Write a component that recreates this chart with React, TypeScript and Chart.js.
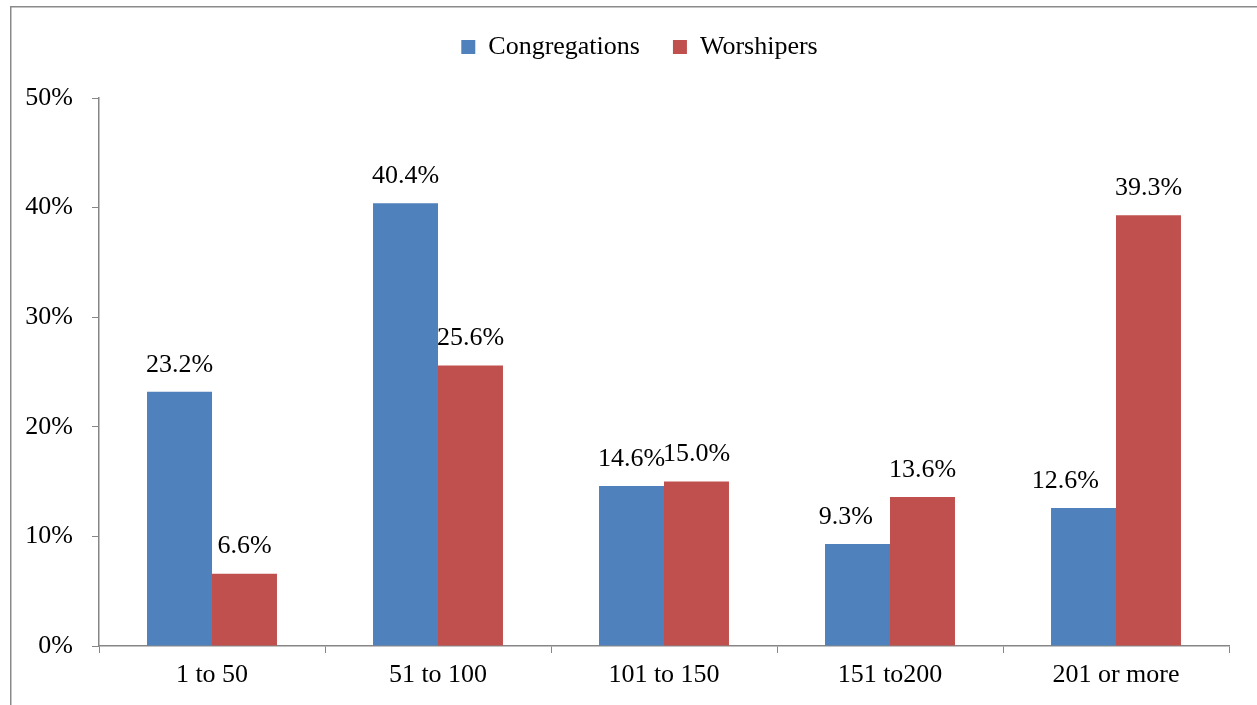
import React, { useEffect, useRef } from "react";
import { Chart, registerables } from "chart.js";

Chart.register(...registerables);

const categories = ["1 to 50", "51 to 100", "101 to 150", "151 to200", "201 or more"];
const congregations = [23.2, 40.4, 14.6, 9.3, 12.6];
const worshipers = [6.6, 25.6, 15.0, 13.6, 39.3];
const yTicks = [0, 10, 20, 30, 40, 50];

const FONT = "'Liberation Serif', 'Times New Roman', serif";
const FS = 26;
const AXIS = "#868686";

const frame = {
  id: "frame",
  beforeDraw(chart: any) {
    const ctx = chart.ctx;
    ctx.save();
    ctx.strokeStyle = "#8a8a8a";
    ctx.lineWidth = 1.5;
    ctx.beginPath();
    ctx.moveTo(10.75, chart.height);
    ctx.lineTo(10.75, 6.75);
    ctx.lineTo(chart.width, 6.75);
    ctx.stroke();
    ctx.restore();
  },
};

const legendSpace = {
  id: "legendSpace",
  beforeInit(chart: any) {
    const lg = chart.legend;
    if (!lg) return;
    const orig = lg.fit;
    lg.fit = function () {
      orig.call(this);
      this.height += 28;
    };
  },
  afterLayout(chart: any) {
    const lg = chart.legend;
    if (lg) lg.left += 50;
  },
};

const valueLabels = {
  id: "valueLabels",
  afterDatasetsDraw(chart: any) {
    const ctx = chart.ctx;
    ctx.save();
    ctx.font = `${FS}px ${FONT}`;
    ctx.fillStyle = "#000";
    ctx.textAlign = "center";
    ctx.textBaseline = "middle";
    const n = chart.data.datasets.length;
    chart.data.datasets.forEach((ds: any, i: number) => {
      const meta = chart.getDatasetMeta(i);
      meta.data.forEach((bar: any, j: number) => {
        const txt = ds.data[j].toFixed(1) + "%";
        const w = ctx.measureText(txt).width;
        let x = bar.x;
        const y = bar.y - 27;
        if (i + 1 < n) {
          const nb = chart.getDatasetMeta(i + 1).data[j];
          const nLeft = nb.x - nb.width / 2;
          if (y + 10 > nb.y && x + w / 2 > nLeft - 15) x = nLeft - 17 - w / 2;
        }
        ctx.fillText(txt, x, y);
      });
    });
    ctx.restore();
  },
};

export default function App() {
  const ref = useRef<HTMLCanvasElement>(null);
  useEffect(() => {
    const chart = new Chart(ref.current!, {
      type: "bar",
      data: {
        labels: categories,
        datasets: [
          { label: "Congregations", data: congregations, backgroundColor: "#4F81BD" },
          { label: "Worshipers", data: worshipers, backgroundColor: "#C0504D" },
        ],
      },
      options: {
        animation: false,
        responsive: false,
        maintainAspectRatio: false,
        layout: { padding: { top: 1, right: 28, bottom: 0, left: 0 } },
        datasets: { bar: { categoryPercentage: 0.575, barPercentage: 1 } },
        plugins: {
          legend: {
            position: "top",
            labels: {
              font: { family: FONT, size: FS },
              color: "#000",
              boxWidth: 14,
              boxHeight: 14,
              padding: 33,
            },
          },
          tooltip: { enabled: false },
        },
        scales: {
          x: {
            offset: true,
            grid: { display: true, drawOnChartArea: false, drawTicks: true, tickLength: 7, offset: true, color: AXIS },
            border: { display: true, color: AXIS, width: 1.5 },
            ticks: { font: { family: FONT, size: FS }, color: "#000", padding: 7 },
            afterFit: (s: any) => { s.height = 59; },
          },
          y: {
            min: 0,
            max: 50,
            afterBuildTicks: (s: any) => { s.ticks = yTicks.map((v) => ({ value: v })); },
            grid: { display: true, drawOnChartArea: false, drawTicks: true, tickLength: 7, color: AXIS },
            border: { display: true, color: AXIS, width: 1.5 },
            ticks: { font: { family: FONT, size: FS }, color: "#000", padding: 19, callback: (v: any) => v + "%" },
            afterFit: (s: any) => { s.width = 99; },
          },
        },
      },
      plugins: [frame, legendSpace, valueLabels],
    });
    return () => chart.destroy();
  }, []);
  return (
    <canvas
      ref={ref}
      width={1257}
      height={705}
      style={{ position: "fixed", left: 0, top: 0, width: 1257, height: 705 }}
    />
  );
}
